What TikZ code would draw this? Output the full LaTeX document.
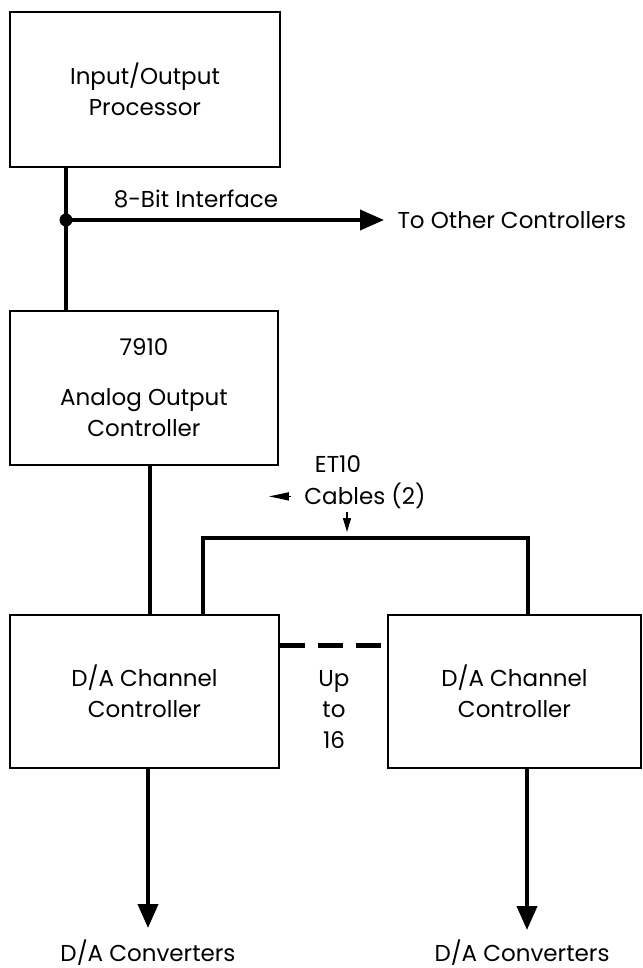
\documentclass[tikz,border=0pt]{standalone}
\usepackage{fontspec}
\setmainfont{Poppins}
\usetikzlibrary{arrows.meta, positioning, calc}

\begin{document}
\begin{tikzpicture}[
    x=1pt, y=-1pt,
    font=\fontsize{23}{31}\selectfont,
    block/.style={rectangle, draw, line width=2.4pt, align=center, inner sep=0pt},
    line/.style={draw, line width=4pt},
    arrowline/.style={draw, line width=4pt, -{Triangle[length=24pt, width=20pt]}},
    pointer/.style={draw, line width=1.5pt, -{Triangle[length=14pt, width=8pt]}}
]
\useasboundingbox (0,0) rectangle (642,968);

\node [block, minimum width=270pt, minimum height=155pt] (iop) at (145,89.5) {Input/Output\\Processor};
\node [block, minimum width=268pt, minimum height=154pt] (aoc) at (144,388) {7910\\[19pt]Analog Output\\Controller};
\node [block, minimum width=269pt, minimum height=153pt] (dac1) at (144.5,691.5) {D/A Channel\\Controller};
\node [block, minimum width=253pt, minimum height=153pt] (dac2) at (514.5,691.5) {D/A Channel\\Controller};

\coordinate (jn) at (66,220);
\coordinate (toc) at (384,220);
\coordinate (cbl) at (203,538);
\coordinate (cbr) at (528,538);
\coordinate (out1) at (148,928);
\coordinate (out2) at (527,930);

% processor bus
\path [line] (iop.south -| jn) -- (aoc.north -| jn);
\fill (jn) circle [radius=6.5pt];
\path [arrowline] (jn) -- (toc);
\node [anchor=west] (other) at ([xshift=10pt]toc) {To Other Controllers};
\node (bitif) at (196,199) {8-Bit Interface};

% controller to channel controllers
\path [line] (aoc.south -| 150,0) -- (dac1.north -| 150,0);
\path [line] (dac1.north -| cbl) -- (cbl) -- (cbr) -- (dac2.north -| cbr);
\draw [line width=5pt, dash pattern=on 25pt off 13pt] (dac1.east |- 0,645) -- (dac2.west |- 0,645);
\node [align=center] (upto) at (334,709) {Up\\to\\16};

% cable labels
\node [anchor=base] (et) at (338,472) {ET10};
\node [anchor=base] (cables) at (365,504) {Cables (2)};
\path [draw, line width=1.5pt, -{Triangle[length=20pt, width=8pt]}] ([xshift=-10pt,yshift=-1pt]cables.west) -- ++(-22,0);
\path [pointer] (347,512) -- (347,532);

% outputs
\path [arrowline] (dac1.south -| out1) -- (out1);
\path [arrowline] (dac2.south -| out2) -- (out2);
\node [anchor=base, inner sep=1pt] (conv1) at (148,961) {D/A Converters};
\node [anchor=base, inner sep=1pt] (conv2) at (522,961) {D/A Converters};

\end{tikzpicture}
\end{document}
